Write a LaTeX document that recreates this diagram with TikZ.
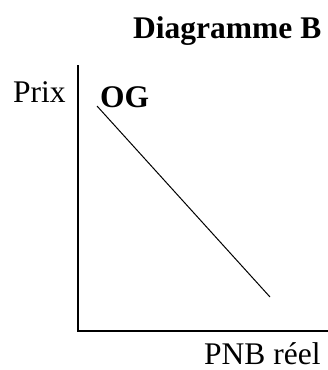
\documentclass[tikz,border=0pt]{standalone}
\usepackage{fontspec}
\setmainfont{Liberation Serif}
\usetikzlibrary{positioning}

\begin{document}
\begin{tikzpicture}[
            x=1pt, y=-1pt,
            label/.style = {inner sep=0pt, anchor=base west, font=\fontsize{31.5}{36}\selectfont},
            title/.style = {label, font=\fontsize{31.5}{36}\selectfont\bfseries},
            axis/.style = {draw, line width=1.4pt, black},
            curve/.style = {draw, line width=1pt, black}
        ]
            \useasboundingbox (0,0) rectangle (328,370);
            \node [title] (title) at (133,38) {Diagramme B};
            \node [label] (prix) at (13,102) {Prix};
            \node [title] (og) at (100,107) {OG};
            \node [label, text depth=0pt] (pnb) at (204,364) {PNB réel};
            
            \coordinate (top) at (78,65);
            \coordinate (origin) at (78,331);
            \coordinate (right) at (328,331);
            \coordinate (ogstart) at (97,106);
            \coordinate (ogend) at (270,297);
            
            \draw [axis] (top) -- (origin) -- (right);
            \draw [curve] (ogstart) -- (ogend);
        \end{tikzpicture}
\end{document}
